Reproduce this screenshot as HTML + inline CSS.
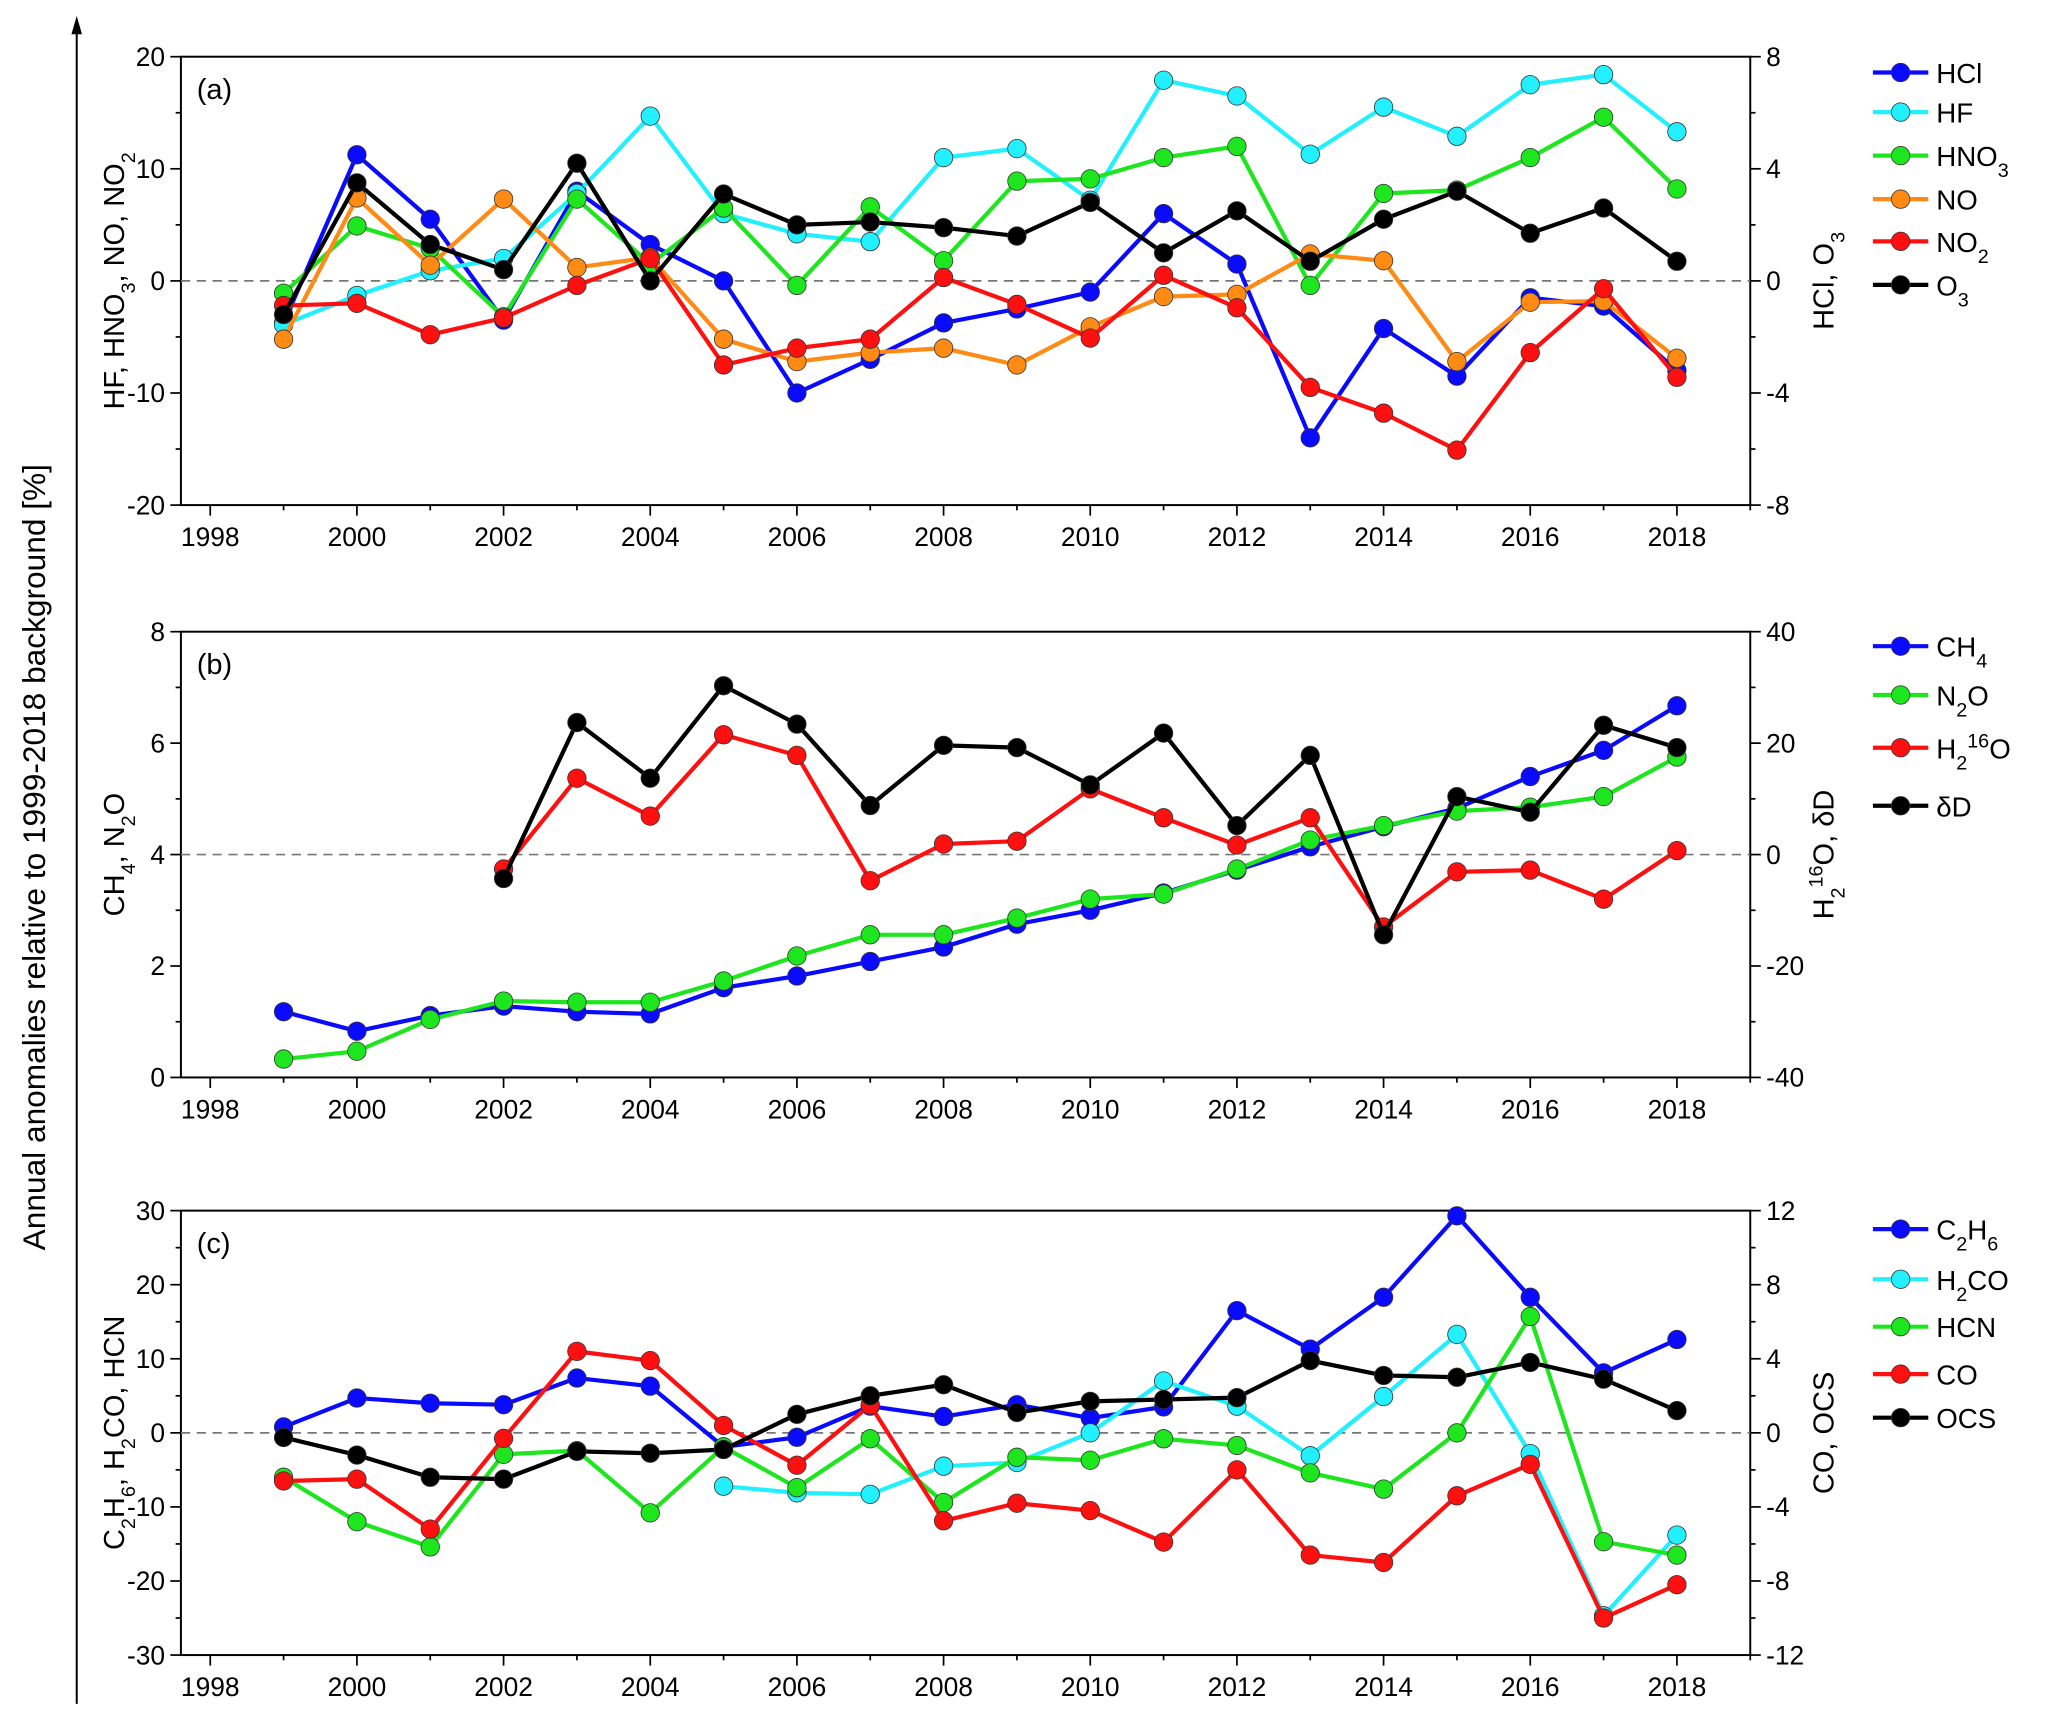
<!DOCTYPE html>
<html><head><meta charset="utf-8"><style>
html,body{margin:0;padding:0;background:#fff}
svg{display:block;font-family:"Liberation Sans",Arial,sans-serif}
</style></head><body>
<svg id="chart" width="2067" height="1721" viewBox="0 0 1567 1305" xmlns="http://www.w3.org/2000/svg">
<text transform="translate(34,650) rotate(-90)" text-anchor="middle" font-size="24">Annual anomalies relative to 1999-2018 background [%]</text>
<line x1="58" y1="1292" x2="58" y2="22" stroke="#000" stroke-width="1.5"/>
<polygon points="58,12 54,26 62,26" fill="#000"/>
</svg>
<script>
const years = [1999,2000,2001,2002,2003,2004,2005,2006,2007,2008,2009,2010,2011,2012,2013,2014,2015,2016,2017,2018];
const xTicks = [1998,2000,2002,2004,2006,2008,2010,2012,2014,2016,2018];
// panel a
const hclVals = [-1.5,4.5,2.2,-1.4,3.2,1.3,0,-4,-2.8,-1.5,-1.0,-0.4,2.4,0.6,-5.6,-1.7,-3.4,-0.6,-0.9,-3.2];
const hfVals = [-3.9,-1.3,0.9,2,7.8,14.7,6,4.2,3.5,11,11.8,7.2,17.9,16.5,11.3,15.5,12.9,17.5,18.4,13.3];
const hno3Vals = [-1.1,4.9,2.9,-3.2,7.3,1.5,6.5,-0.4,6.6,1.8,8.9,9.1,11,12,-0.4,7.8,8.1,11,14.6,8.2];
const noVals = [-5.2,7.4,1.4,7.3,1.2,2.1,-5.2,-7.2,-6.4,-6,-7.5,-4.1,-1.4,-1.2,2.4,1.8,-7.2,-1.9,-1.8,-6.9];
const no2Vals = [-2.2,-2,-4.8,-3.3,-0.4,2,-7.5,-6,-5.2,0.3,-2.1,-5.1,0.5,-2.4,-9.5,-11.8,-15.1,-6.4,-0.7,-8.6];
const o3Vals = [-1.2,3.5,1.3,0.4,4.2,0,3.1,2,2.1,1.9,1.6,2.8,1.0,2.5,0.7,2.2,3.2,1.7,2.6,0.7];
const aLeftTicks = [-20,-10,0,10,20];
const aRightTicks = [-8,-4,0,4,8];
// panel b
const ch4Vals = [1.18,0.83,1.11,1.28,1.18,1.14,1.61,1.82,2.08,2.34,2.75,3.0,3.31,3.72,4.14,4.5,4.83,5.4,5.87,6.67];
const n2oVals = [0.33,0.47,1.04,1.37,1.35,1.35,1.73,2.18,2.56,2.56,2.86,3.2,3.29,3.74,4.26,4.52,4.78,4.85,5.04,5.75];
const h2oVals = [null,null,null,-2.6,13.7,6.9,21.5,17.8,-4.7,1.9,2.4,11.8,6.6,1.7,6.6,-13,-3.1,-2.8,-8,0.7];
const dDVals = [null,null,null,-4.3,23.7,13.7,30.3,23.4,8.8,19.6,19.2,12.5,21.8,5.2,17.8,-14.4,10.4,7.6,23.2,19.2];
const bLeftTicks = [0,2,4,6,8];
const bRightTicks = [-40,-20,0,20,40];
// panel c
const c2h6Vals = [0.8,4.7,4,3.8,7.4,6.3,-1.9,-0.6,3.6,2.2,3.8,2.0,3.5,16.5,11.3,18.3,29.3,18.3,8.1,12.6];
const h2coVals = [null,null,null,null,null,null,-7.2,-8.1,-8.3,-4.5,-4.0,0,7,3.6,-3.1,4.9,13.3,-2.8,-24.7,-13.8];
const hcnVals = [-6,-12,-15.4,-2.9,-2.4,-10.8,-1.9,-7.4,-0.8,-9.4,-3.3,-3.7,-0.8,-1.7,-5.4,-7.6,0,15.7,-14.7,-16.5];
const coVals = [-2.6,-2.5,-5.2,-0.3,4.4,3.9,0.4,-1.75,1.5,-4.75,-3.8,-4.2,-5.9,-2,-6.6,-7,-3.4,-1.7,-10,-8.2];
const ocsVals = [-0.25,-1.2,-2.4,-2.5,-1,-1.1,-0.9,1,2,2.6,1.1,1.7,1.8,1.9,3.9,3.1,3,3.8,2.9,1.2];
const cLeftTicks = [-30,-20,-10,0,10,20,30];
const cRightTicks = [-12,-8,-4,0,4,8,12];

const NS="http://www.w3.org/2000/svg";
const svg=document.getElementById('chart');
const C={blue:'#0a0aff',cyan:'#22f0ff',green:'#1ee61e',orange:'#ff8a14',red:'#ff1010',black:'#000'};
function mk(tag,attrs,parent){const e=document.createElementNS(NS,tag);for(const k in attrs)e.setAttribute(k,attrs[k]);(parent||svg).appendChild(e);return e;}
const X0=137,X1=1327,XMIN=1997.6,XMAX=2019;
function xs(v){return X0+(v-XMIN)/(XMAX-XMIN)*(X1-X0);}

function richText(g,x,y,parts,attrs){
  const t=mk('text',Object.assign({x:x,y:y,'font-size':22},attrs),g);
  parts.forEach(p=>{const s=mk('tspan',{},t);s.textContent=p[0];
    if(p[1]==='sub'){s.setAttribute('baseline-shift','sub');s.setAttribute('font-size','15');}
    if(p[1]==='sup'){s.setAttribute('baseline-shift','super');s.setAttribute('font-size','15');}});
  return t;
}

function panel(cfg){
  const g=mk('g',{});
  
  
  const yT=cfg.yTop,yB=cfg.yBot;
  const yl=v=>yB-(v-cfg.lMin)/(cfg.lMax-cfg.lMin)*(yB-yT);
  const yr=v=>yB-(v-cfg.rMin)/(cfg.rMax-cfg.rMin)*(yB-yT);
  const frame=mk('rect',{x:X0,y:yT,width:X1-X0,height:yB-yT,fill:'none',stroke:'#000','stroke-width':1.5},g);
  
  
  // zero line
  const zl=mk('line',{x1:X0,x2:X1,y1:yl(cfg.zero),y2:yl(cfg.zero),stroke:'#777','stroke-width':1.3,'stroke-dasharray':'7,5'},g);
  
  
  // x ticks
  for(let yr_=1998;yr_<=2019;yr_++){
    const major=xTicks.includes(yr_);
    mk('line',{x1:xs(yr_),x2:xs(yr_),y1:yB,y2:yB+(major?8:4),stroke:'#000','stroke-width':1.3},g);
  }
  xTicks.forEach(v=>{const t=mk('text',{x:xs(v),y:yB+31,'text-anchor':'middle','font-size':20},g);t.textContent=v;
    
    });
  // left ticks
  const lt=cfg.lTicks;
  for(let i=0;i<lt.length;i++){
    const y=yl(lt[i]);
    mk('line',{x1:X0-8,x2:X0,y1:y,y2:y,stroke:'#000','stroke-width':1.3},g);
    if(i<lt.length-1){const ym=yl((lt[i]+lt[i+1])/2);mk('line',{x1:X0-4,x2:X0,y1:ym,y2:ym,stroke:'#000','stroke-width':1.3},g);}
    const t=mk('text',{x:X0-12,y:y+7,'text-anchor':'end','font-size':20},g);t.textContent=lt[i];
    
    
  }
  const rt=cfg.rTicks;
  for(let i=0;i<rt.length;i++){
    const y=yr(rt[i]);
    mk('line',{x1:X1,x2:X1+8,y1:y,y2:y,stroke:'#000','stroke-width':1.3},g);
    if(i<rt.length-1){const ym=yr((rt[i]+rt[i+1])/2);mk('line',{x1:X1,x2:X1+4,y1:ym,y2:ym,stroke:'#000','stroke-width':1.3},g);}
    const t=mk('text',{x:X1+12,y:y+7,'text-anchor':'start','font-size':20},g);t.textContent=rt[i];
    
    
  }
  const lab=mk('text',{x:X0+12,y:yT+32,'font-size':22},g);lab.textContent=cfg.label;
  
  
  const lt1=richText(g,0,0,cfg.lTitle,{transform:`translate(${X0-43},${(yT+yB)/2}) rotate(-90)`,'text-anchor':'middle'});
  
  
  const rt1=richText(g,0,0,cfg.rTitle,{transform:`translate(${X1+63},${(yT+yB)/2}) rotate(-90)`,'text-anchor':'middle'});
  
  
  // series
  cfg.series.forEach(s=>{
    const sc=s.axis==='r'?yr:yl;
    const sg=mk('g',{},g);
    
    
    const pts=[];years.forEach((yy,i)=>{if(s.vals[i]!==null&&s.vals[i]!==undefined)pts.push([xs(yy),sc(s.vals[i])]);});
    const pl=mk('polyline',{points:pts.map(p=>p.join(',')).join(' '),fill:'none',stroke:s.color,'stroke-width':3.2,'stroke-linejoin':'round'},sg);
    
    
    pts.forEach(p=>{const c=mk('circle',{cx:p[0],cy:p[1],r:7,fill:s.color,stroke:'#333','stroke-width':0.6},sg);
      
      });
  });
  // legend
  cfg.series.forEach((s,i)=>{
    const ly=cfg.legY[i];
    const lg=mk('g',{},g);
    
    
    mk('line',{x1:1420,x2:1462,y1:ly,y2:ly,stroke:s.color,'stroke-width':3.2},lg);
    mk('circle',{cx:1441,cy:ly,r:7,fill:s.color,stroke:'#333','stroke-width':0.6},lg);
    richText(lg,1468,ly+8,s.title,{'font-size':21});
  });
}

panel({name:'panel-a',label:'(a)',yTop:43,yBot:383,lMin:-20,lMax:20,rMin:-8,rMax:8,zero:0,lTicks:aLeftTicks,rTicks:aRightTicks,
 lTitle:[['HF, HNO'],['3','sub'],[', NO, NO'],['2','sub']],rTitle:[['HCl, O'],['3','sub']],
 legY:[55,85,118,151,183,216],
 series:[{id:'hno3',vals:hno3Vals,color:C.green,axis:'l',title:[['HNO'],['3','sub']]}].slice(0,0).concat([
  {id:'hcl',vals:hclVals,color:C.blue,axis:'r',title:[['HCl']]},
  {id:'hf',vals:hfVals,color:C.cyan,axis:'l',title:[['HF']]},
  {id:'hno3',vals:hno3Vals,color:C.green,axis:'l',title:[['HNO'],['3','sub']]},
  {id:'no',vals:noVals,color:C.orange,axis:'l',title:[['NO']]},
  {id:'no2',vals:no2Vals,color:C.red,axis:'l',title:[['NO'],['2','sub']]},
  {id:'o3',vals:o3Vals,color:C.black,axis:'r',title:[['O'],['3','sub']]}])});
panel({name:'panel-b',label:'(b)',yTop:479,yBot:817,lMin:0,lMax:8,rMin:-40,rMax:40,zero:4,lTicks:bLeftTicks,rTicks:bRightTicks,
 lTitle:[['CH'],['4','sub'],[', N'],['2','sub'],['O']],rTitle:[['H'],['2','sub'],['16','sup'],['O, δD']],
 legY:[490,527,567,611],
 series:[
  {id:'ch4',vals:ch4Vals,color:C.blue,axis:'l',title:[['CH'],['4','sub']]},
  {id:'n2o',vals:n2oVals,color:C.green,axis:'l',title:[['N'],['2','sub'],['O']]},
  {id:'h2o',vals:h2oVals,color:C.red,axis:'r',title:[['H'],['2','sub'],['16','sup'],['O']]},
  {id:'dd',vals:dDVals,color:C.black,axis:'r',title:[['δD']]}]});
panel({name:'panel-c',label:'(c)',yTop:918,yBot:1255,lMin:-30,lMax:30,rMin:-12,rMax:12,zero:0,lTicks:cLeftTicks,rTicks:cRightTicks,
 lTitle:[['C'],['2','sub'],['H'],['6','sub'],[', H'],['2','sub'],['CO, HCN']],rTitle:[['CO, OCS']],
 legY:[932,970,1006,1042,1075],
 series:[
  {id:'c2h6',vals:c2h6Vals,color:C.blue,axis:'l',title:[['C'],['2','sub'],['H'],['6','sub']]},
  {id:'h2co',vals:h2coVals,color:C.cyan,axis:'l',title:[['H'],['2','sub'],['CO']]},
  {id:'hcn',vals:hcnVals,color:C.green,axis:'l',title:[['HCN']]},
  {id:'co',vals:coVals,color:C.red,axis:'r',title:[['CO']]},
  {id:'ocs',vals:ocsVals,color:C.black,axis:'r',title:[['OCS']]}]});
</script>
</body></html>
